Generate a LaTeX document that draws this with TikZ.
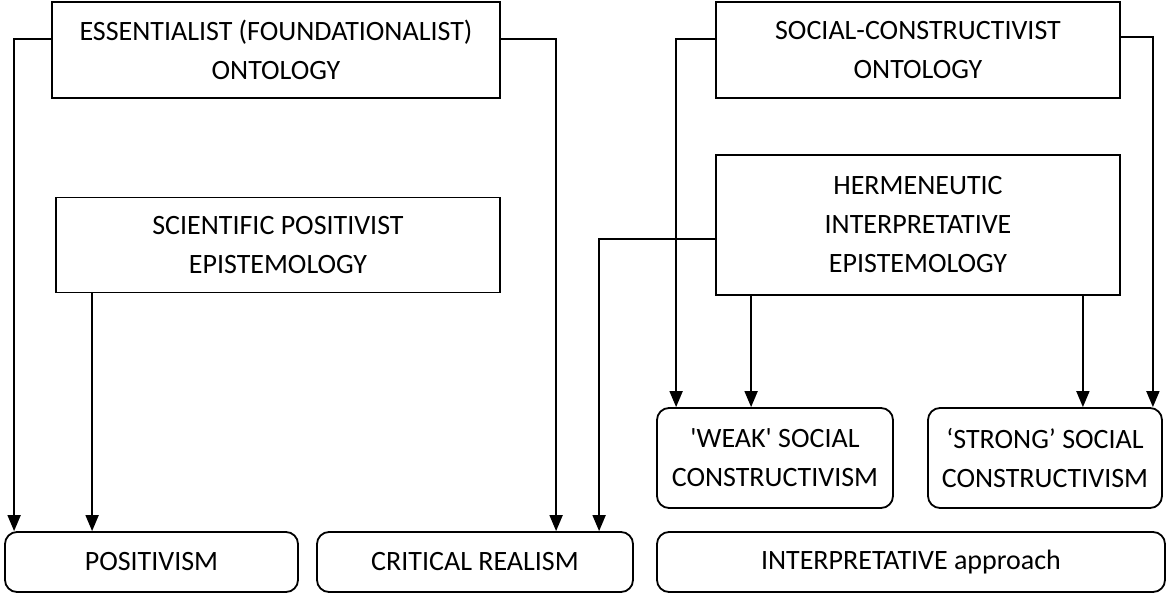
\documentclass[tikz,border=0pt]{standalone}
\usepackage{fontspec}
\setmainfont{Carlito}
\usetikzlibrary{arrows.meta,calc}
\begin{document}
\begin{tikzpicture}[x=1pt,y=-1pt,
  box/.style={draw,line width=1.8pt,inner sep=0pt,align=center,font=\fontsize{28}{39}\selectfont},
  rbox/.style={box,rounded corners=12pt},
  arr/.style={line width=1.8pt,-{Triangle[length=16pt,width=13pt]}}]
\useasboundingbox (0,0) rectangle (1172,596);
\node[box,minimum width=448,minimum height=96] (ess) at (276,50) {ESSENTIALIST (FOUNDATIONALIST)\\ONTOLOGY};
\node[box,minimum width=444,minimum height=95] (sci) at (278,245) {SCIENTIFIC POSITIVIST\\EPISTEMOLOGY};
\node[rbox,minimum width=293,minimum height=60] (pos) at (151.5,562) {POSITIVISM};
\node[rbox,minimum width=316,minimum height=60] (cr) at (475,562) {CRITICAL REALISM};
\node[rbox,minimum width=508,minimum height=60] (ia) at (911,562) {INTERPRETATIVE approach};
\node[box,minimum width=404,minimum height=96] (soc) at (918,50) {SOCIAL-CONSTRUCTIVIST\\ONTOLOGY};
\node[box,minimum width=404,minimum height=140] (herm) at (918,225) {HERMENEUTIC\\INTERPRETATIVE\\EPISTEMOLOGY};
\node[rbox,minimum width=236,minimum height=100] (weak) at (775,458) {\textquotesingle WEAK\textquotesingle{} SOCIAL\\CONSTRUCTIVISM};
\node[rbox,minimum width=234,minimum height=100] (strong) at (1045,458) {‘STRONG’ SOCIAL\\CONSTRUCTIVISM};
% connectors
\draw[arr] ($(ess.north west)+(0,38)$) -| ($(pos.north west)+(10,0)$);
\draw[arr] ($(ess.north east)+(0,38)$) -| ($(cr.north west)+(240,0)$);
\coordinate (s1) at ($(sci.south west)+(37,0)$);
\draw[arr] (s1) -- (s1 |- pos.north);
\draw[arr] ($(herm.north west)+(0,85)$) -| ($(cr.north west)+(283,0)$);
\draw[arr] ($(soc.north west)+(0,38)$) -| ($(weak.north west)+(20,0)$);
\draw[arr] ($(soc.north east)+(0,36)$) -| ($(strong.north east)+(-10,0)$);
\coordinate (h1) at ($(herm.south west)+(36,0)$);
\draw[arr] (h1) -- (h1 |- weak.north);
\coordinate (h2) at ($(herm.south east)+(-38,0)$);
\draw[arr] (h2) -- (h2 |- strong.north);
\end{tikzpicture}
\end{document}
